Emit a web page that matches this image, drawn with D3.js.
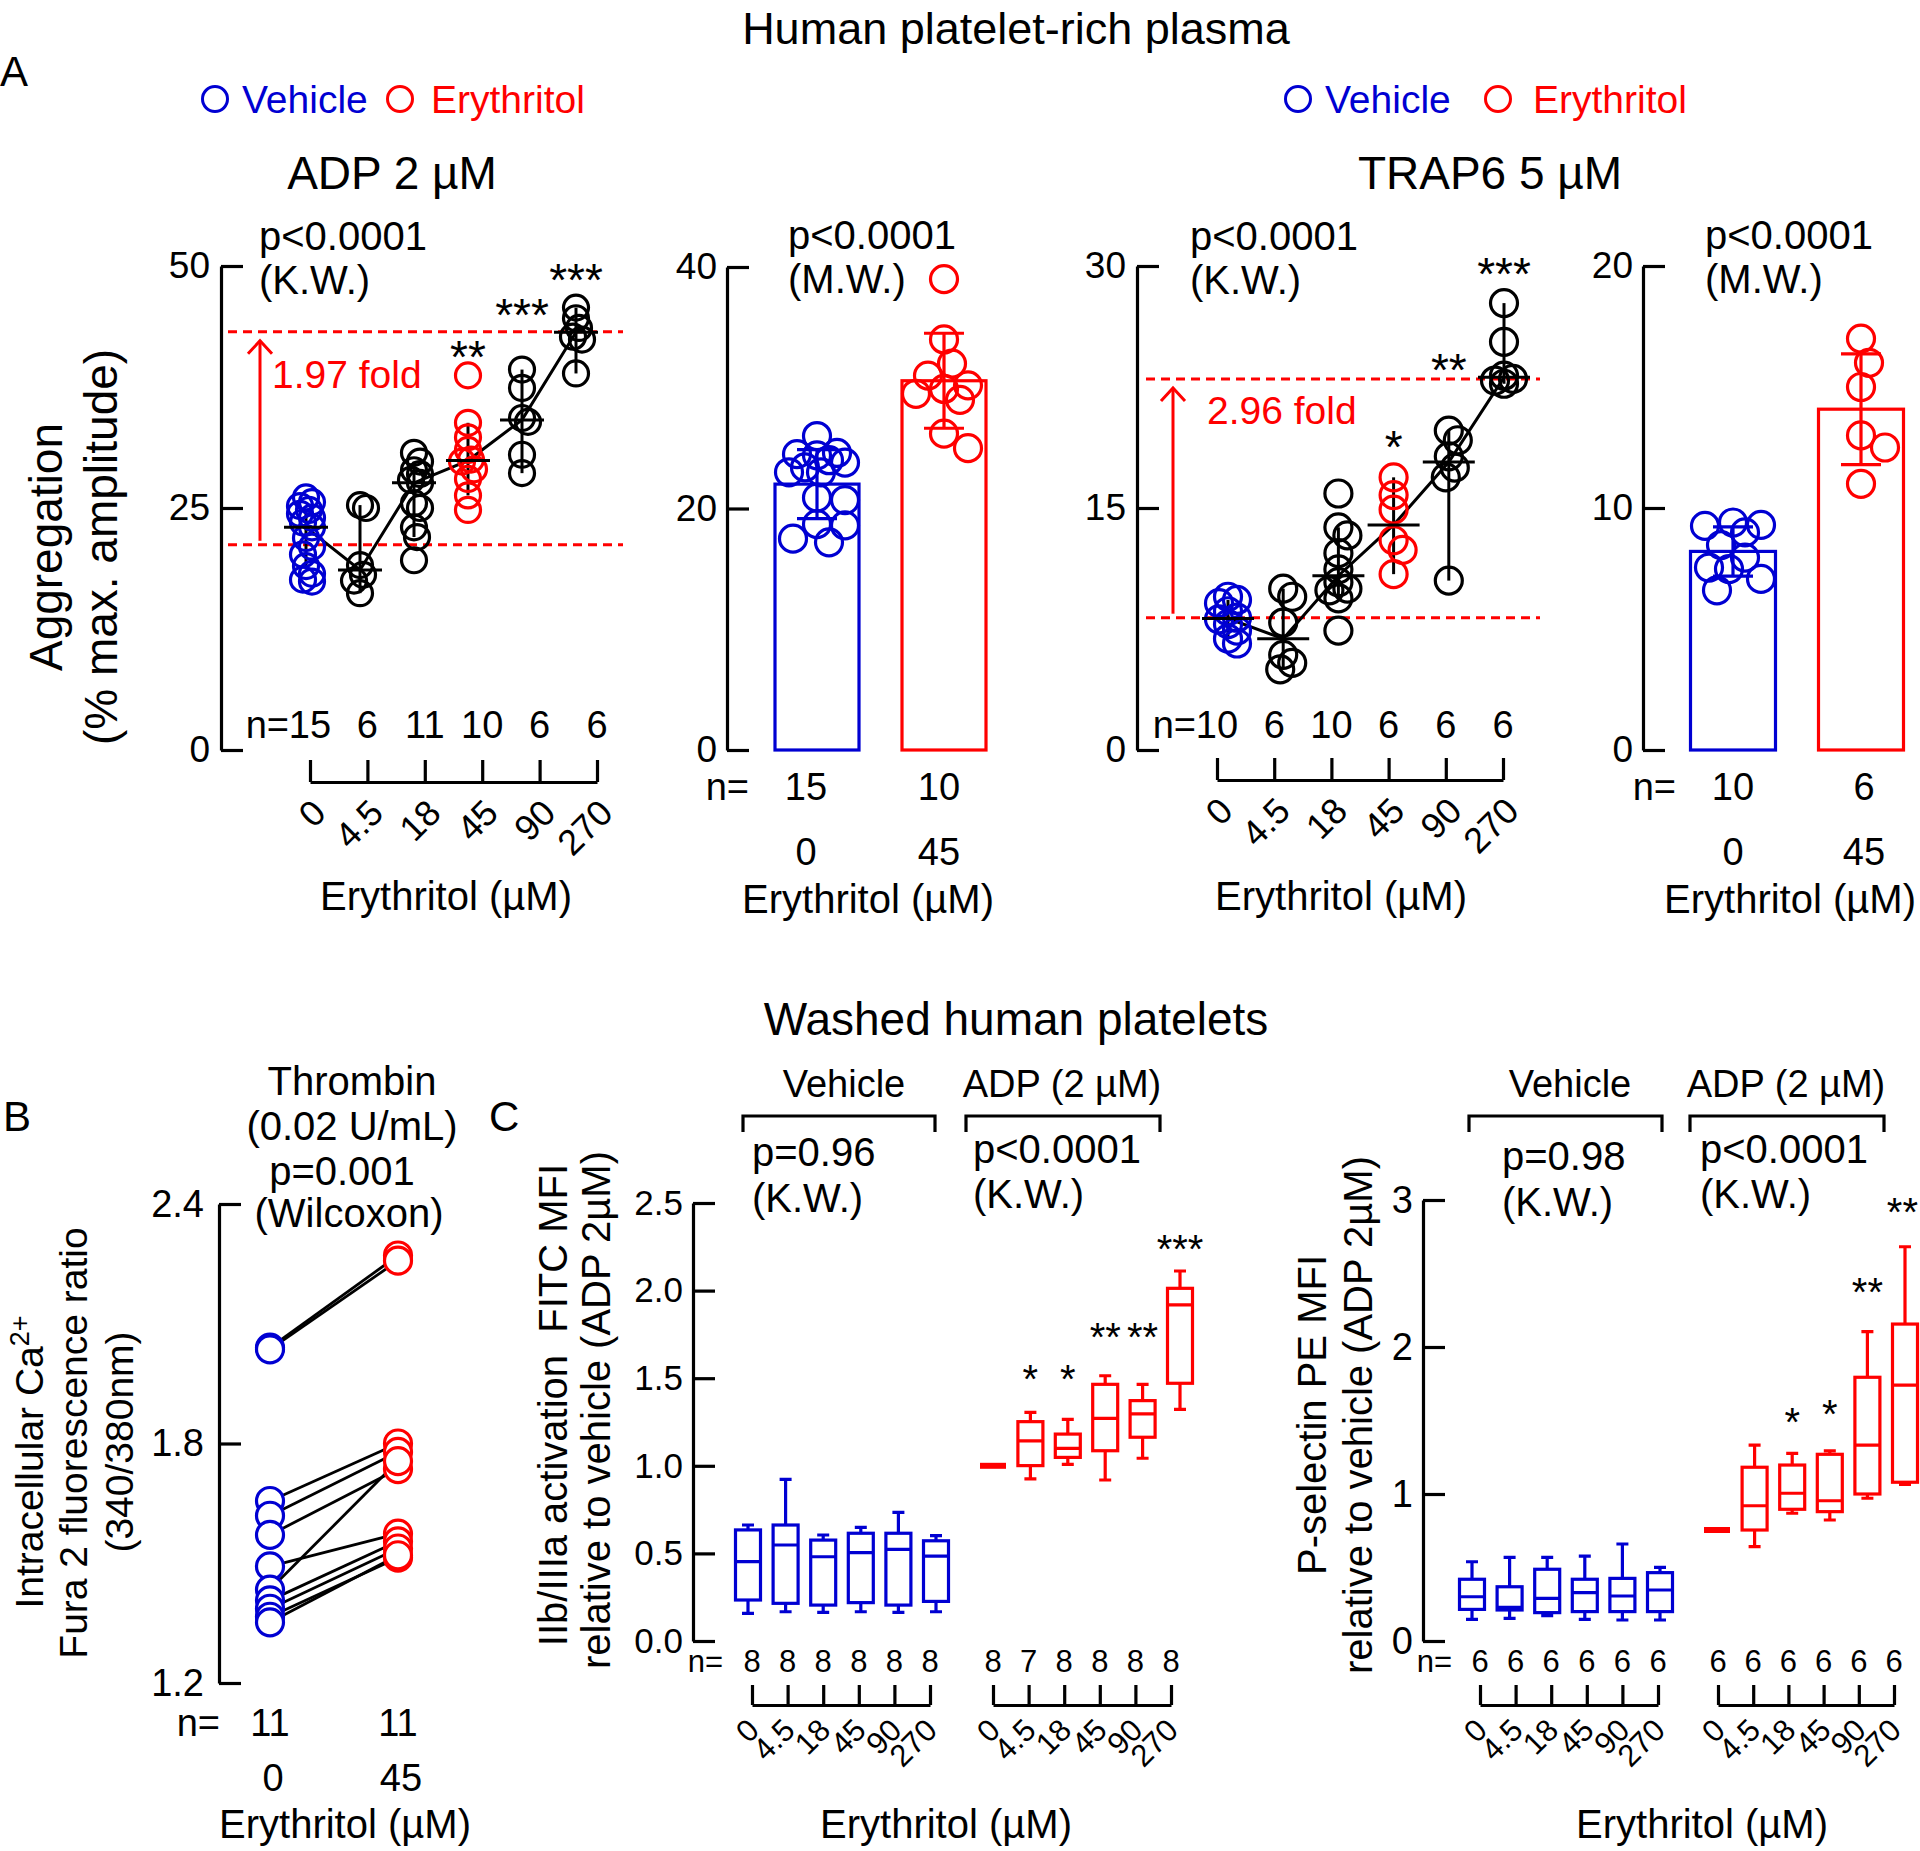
<!DOCTYPE html>
<html><head><meta charset="utf-8">
<script src="https://cdn.jsdelivr.net/npm/d3@7"></script>
<style>body{margin:0;background:#fff}svg{display:block}</style>
</head><body>
<script>
// ---------------- DATA ----------------
const doses = ["0","4.5","18","45","90","270"];

// A – ADP 2 µM, aggregation (% max. amplitude) per erythritol dose
const adpAgg = [
  [26.1,25.6,25.2,24.8,24.4,24.0,23.5,23.0,21.9,21.0,20.2,19.0,18.2,17.6,17.4],
  [25.3,25.0,19.1,18.1,17.5,16.2],
  [30.7,29.8,28.9,28.5,27.9,27.6,25.5,25.0,23.0,22.0,19.6],
  [38.7,33.8,32.3,31.0,30.0,29.8,29.0,28.0,26.3,24.8],
  [39.3,37.4,34.3,33.9,30.5,28.6],
  [45.7,44.6,43.6,42.7,42.4,38.9]
];
const adpSig  = ["","","","**","***","***"];
const adpSigY = [0,0,0,41.6,46.0,49.6];
const adpRef  = [21.2,43.2];
const adpVeh  = [26.0,24.6,24.5,23.8,24.0,23.0,23.0,23.4,20.9,20.7,18.7,18.6,17.2,17.5,24.4];
const adpEry  = [39.0,34.0,32.0,31.0,30.2,29.9,29.5,29.0,26.2,25.0];

// A – TRAP6 5 µM
const trapAgg = [
  [9.5,9.3,9.1,8.6,8.2,8.1,7.8,7.4,6.9,6.6],
  [10.0,9.5,7.9,5.9,5.4,5.0],
  [15.9,13.8,13.3,12.2,11.2,10.4,10.0,9.9,9.4,7.4],
  [16.9,15.8,14.9,13.0,12.4,10.9],
  [19.8,19.2,18.2,17.5,16.9,10.5],
  [27.7,25.3,23.2,23.0,22.9,22.7]
];
const trapSig  = ["","","","*","**","***"];
const trapSigY = [0,0,0,19.4,24.2,30.1];
const trapRef  = [8.2,23.0];
const trapVeh  = [9.4,9.26,8.99,9.3,8.47,7.95,7.54,7.48,7.07,6.6];
const trapEry  = [17.0,16.0,15.0,13.0,12.5,11.0];

// B – intracellular Ca2+ (paired)
const caVeh = [2.040,2.036,1.656,1.619,1.571,1.492,1.434,1.407,1.386,1.366,1.352];
const caEry = [2.271,2.258,1.800,1.779,1.736,1.574,1.756,1.555,1.537,1.514,1.520];

// C – box summaries [whiskerLow, q1, median, q3, whiskerHigh]
const itgVeh = [
  [0.158,0.234,0.453,0.634,0.662],[0.167,0.215,0.548,0.662,0.923],[0.163,0.205,0.481,0.576,0.605],
  [0.167,0.219,0.504,0.615,0.649],[0.163,0.205,0.523,0.615,0.734],[0.167,0.226,0.485,0.572,0.601]];
const itgAdp = [
  [1,1,1,1,1],[0.925,1.001,1.142,1.252,1.305],[1.008,1.048,1.100,1.181,1.265],
  [0.919,1.086,1.271,1.465,1.514],[1.043,1.163,1.296,1.372,1.465],[1.322,1.471,1.918,2.013,2.112]];
const itgNVeh = [8,8,8,8,8,8], itgNAdp = [8,7,8,8,8,8];
const itgSig  = ["","*","*","**","**","***"];
const itgSigY = [0,1.547,1.547,1.787,1.787,2.289];

const pselVeh = [
  [0.147,0.215,0.301,0.420,0.539],[0.154,0.211,0.229,0.369,0.569],[0.172,0.193,0.290,0.488,0.569],
  [0.147,0.200,0.329,0.420,0.578],[0.143,0.200,0.306,0.426,0.660],[0.143,0.200,0.347,0.465,0.501]];
const pselAdp = [
  [0.755,0.755,0.755,0.755,0.755],[0.642,0.755,0.920,1.182,1.333],[0.869,0.896,1.005,1.197,1.277],
  [0.823,0.880,0.954,1.270,1.293],[0.971,1.000,1.333,1.794,2.104],[1.066,1.080,1.741,2.156,2.682]];
const pselNVeh = [6,6,6,6,6,6], pselNAdp = [6,6,6,6,6,6];
const pselSig  = ["","","*","*","**","**"];
const pselSigY = [0,0,1.551,1.605,2.435,2.98];

// ---------------- DRAWING ----------------
const W=1920,H=1851;
const FONT="'Liberation Sans', Arial, Helvetica, sans-serif";
const BLUE="#0000d2", RED="#ff0000", BLK="#000";
const svg=d3.select("body").append("svg").attr("width",W).attr("height",H).attr("font-family",FONT);
svg.append("rect").attr("width",W).attr("height",H).attr("fill","#fff");

function txt(g,x,y,s,o={}){
  const t=g.append("text").attr("x",x).attr("y",y).attr("font-size",o.fs||38)
    .attr("fill",o.fill||BLK).attr("text-anchor",o.anchor||"start").text(s);
  if(o.rot!=null) t.attr("transform",`rotate(${o.rot},${x},${y})`);
  return t;
}
function yAxis(g,x,y,ticks,fmt,fs,pad){
  const a=g.append("g").attr("transform",`translate(${x},0)`)
    .call(d3.axisLeft(y).tickValues(ticks).tickFormat(fmt).tickSizeInner(-22).tickSizeOuter(0).tickPadding(pad||10));
  a.attr("font-family",null).attr("font-size",null);
  a.select(".domain").attr("stroke",BLK).attr("stroke-width",3.2);
  a.selectAll(".tick line").attr("stroke",BLK).attr("stroke-width",3.2);
  a.selectAll(".tick text").attr("font-size",fs).attr("fill",BLK);
}
function doseAxis(g,x,yPos,fs,dx,dy,tick){
  const a=g.append("g").attr("transform",`translate(0,${yPos})`)
    .call(d3.axisBottom(x).tickSizeInner(-tick).tickSizeOuter(0).tickFormat(""));
  a.attr("font-family",null).attr("font-size",null);
  a.select(".domain").attr("stroke",BLK).attr("stroke-width",3.2);
  a.selectAll(".tick line").attr("stroke",BLK).attr("stroke-width",3.2);
  g.append("g").selectAll("text").data(x.domain()).join("text")
    .attr("transform",d=>`translate(${x(d)+dx},${yPos+dy}) rotate(-45)`)
    .attr("text-anchor","end").attr("font-size",fs).text(d=>d);
}
function medianCI(v){
  const s=v.slice().sort(d3.ascending), n=s.length, tot=Math.pow(2,n);
  const C=(n,k)=>{let r=1;for(let i=1;i<=k;i++) r=r*(n-k+i)/i;return r;};
  let cum=0,j=0;
  while(j<n && cum+C(n,j)/tot<=0.025){cum+=C(n,j)/tot;j++;}
  if(j===0) return [s[0],s[n-1]];
  return [s[j-1],s[n-j]];
}
function swarm(vals,y,minDist,maxOff,step){
  const idx=d3.range(vals.length).sort((a,b)=>vals[b]-vals[a]);
  const placed=[], offs=new Array(vals.length).fill(0);
  const cands=[0]; for(let k=1;k*step<=maxOff+1e-9;k++) cands.push(k*step,-k*step);
  for(const i of idx){
    const yi=y(vals[i]); let best=0,bestD=-1;
    for(const cx of cands){
      let md=Infinity; for(const p of placed) md=Math.min(md,Math.hypot(cx-p[0],yi-p[1]));
      if(md>=minDist){best=cx;break;}
      if(md>bestD){bestD=md;best=cx;}
    }
    offs[i]=best; placed.push([best,yi]);
  }
  return offs;
}

// headings / legends
txt(svg,1016,44,"Human platelet-rich plasma",{fs:45,anchor:"middle"});
txt(svg,1016,1035,"Washed human platelets",{fs:46,anchor:"middle"});
txt(svg,0,86,"A",{fs:42});
txt(svg,3,1131,"B",{fs:42});
txt(svg,489,1131,"C",{fs:42});
function legend(cx1,tx1,cx2,tx2){
  svg.append("circle").attr("cx",cx1).attr("cy",99).attr("r",12.5).attr("fill","none").attr("stroke",BLUE).attr("stroke-width",3);
  txt(svg,tx1,113,"Vehicle",{fs:39,fill:BLUE});
  svg.append("circle").attr("cx",cx2).attr("cy",99).attr("r",12.5).attr("fill","none").attr("stroke",RED).attr("stroke-width",3);
  txt(svg,tx2,113,"Erythritol",{fs:39,fill:RED});
}
legend(215,242,400,431);
legend(1298,1325,1498,1533);
txt(svg,392,189,"ADP 2 µM",{fs:46,anchor:"middle"});
txt(svg,1490,189,"TRAP6 5 µM",{fs:46,anchor:"middle"});

// A y title
txt(svg,62,547,"Aggregation",{fs:46,anchor:"middle",rot:-90});
txt(svg,117,547,"(% max. amplitude)",{fs:46,anchor:"middle",rot:-90});

const groupCol=[BLUE,BLK,BLK,RED,BLK,BLK];

function dotPanel(c){
  const g=svg.append("g");
  const y=d3.scaleLinear().domain([0,c.ymax]).range([750,c.yTop]);
  const xp=d3.scalePoint().domain(doses).range(c.ptsRange);
  const xa=d3.scalePoint().domain(doses).range(c.axRange);
  yAxis(g,c.axisX,y,c.ticks,d3.format("d"),37,11);
  g.selectAll(".ref").data(c.ref).join("line")
    .attr("x1",c.dash[0]).attr("x2",c.dash[1]).attr("y1",d=>y(d)).attr("y2",d=>y(d))
    .attr("stroke",RED).attr("stroke-width",3).attr("stroke-dasharray","9,6");
  const ay0=y(c.ref[0])-4, ay1=y(c.ref[1])+9;
  g.append("line").attr("x1",c.arrowX).attr("x2",c.arrowX).attr("y1",ay0).attr("y2",ay1).attr("stroke",RED).attr("stroke-width",3);
  g.append("path").attr("d",`M${c.arrowX-12},${ay1+13}L${c.arrowX},${ay1}L${c.arrowX+12},${ay1+13}`)
    .attr("fill","none").attr("stroke",RED).attr("stroke-width",3);
  txt(g,c.fold[0],c.fold[1],c.foldLabel,{fs:39,fill:RED});
  const med=c.groups.map(v=>d3.median(v));
  g.append("path").datum(med).attr("fill","none").attr("stroke",BLK).attr("stroke-width",3)
    .attr("d",d3.line().x((d,i)=>xp(doses[i])).y(d=>y(d)));
  c.groups.forEach((v,i)=>{
    const [lo,hi]=medianCI(v), x=xp(doses[i]);
    g.append("line").attr("x1",x).attr("x2",x).attr("y1",y(lo)).attr("y2",y(hi)).attr("stroke",BLK).attr("stroke-width",3);
  });
  c.groups.forEach((v,i)=>{
    const offs=swarm(v,y,c.minDist,c.maxOff,3), x=xp(doses[i]);
    g.append("g").selectAll("circle").data(v).join("circle")
      .attr("cx",(d,j)=>x+offs[j]).attr("cy",d=>y(d)).attr("r",c.r)
      .attr("fill","none").attr("stroke",groupCol[i]).attr("stroke-width",3.2);
  });
  g.selectAll(".med").data(med).join("line")
    .attr("x1",(d,i)=>xp(doses[i])-c.medHalf).attr("x2",(d,i)=>xp(doses[i])+c.medHalf)
    .attr("y1",d=>y(d)).attr("y2",d=>y(d)).attr("stroke",BLK).attr("stroke-width",3);
  c.sig.forEach((s,i)=>{ if(s) txt(g,xp(doses[i]),y(c.sigY[i])+26,s,{fs:46,anchor:"middle"}); });
  txt(g,xa(doses[0])-21,738,"n=",{fs:38,anchor:"end"});
  c.groups.forEach((v,i)=>txt(g,xa(doses[i]),738,String(v.length),{fs:38,anchor:"middle"}));
  doseAxis(g,xa,c.axY,36,18,33,22);
  txt(g,c.titleX,910,"Erythritol (µM)",{fs:40,anchor:"middle"});
  txt(g,c.pX,250,"p<0.0001",{fs:40});
  txt(g,c.pX,294,"(K.W.)",{fs:40});
}
dotPanel({groups:adpAgg,ymax:50,yTop:266,ticks:[0,25,50],axisX:221,ptsRange:[306,576],axRange:[310,597],
  axY:782,medHalf:22,r:12.5,minDist:10,maxOff:8,ref:adpRef,dash:[228,623],arrowX:260,fold:[272,388],
  foldLabel:"1.97 fold",sig:adpSig,sigY:adpSigY,titleX:446,pX:259});
dotPanel({groups:trapAgg,ymax:30,yTop:266,ticks:[0,15,30],axisX:1137,ptsRange:[1228,1504],axRange:[1217,1503],
  axY:780,medHalf:26,r:13.5,minDist:12,maxOff:9,ref:trapRef,dash:[1146,1540],arrowX:1173,fold:[1207,424],
  foldLabel:"2.96 fold",sig:trapSig,sigY:trapSigY,titleX:1341,pX:1190});

function barPanel(c){
  const g=svg.append("g");
  const y=d3.scaleLinear().domain([0,c.ymax]).range([750,c.yTop]);
  const xb=d3.scalePoint().domain(["0","45"]).range(c.barRange);
  const xl=d3.scalePoint().domain(["0","45"]).range(c.labRange);
  yAxis(g,c.axisX,y,c.ticks,d3.format("d"),37,10);
  [[c.veh,BLUE],[c.ery,RED]].forEach(([v,col],i)=>{
    const k=xb.domain()[i], cx=xb(k), m=d3.mean(v), sd=d3.deviation(v);
    g.append("rect").attr("x",cx-c.bw/2).attr("width",c.bw).attr("y",y(m)).attr("height",y(0)-y(m))
      .attr("fill","none").attr("stroke",col).attr("stroke-width",3.2);
    g.append("path").attr("d",`M${cx},${y(m-sd)}V${y(m+sd)}M${cx-20},${y(m+sd)}H${cx+20}M${cx-20},${y(m-sd)}H${cx+20}`)
      .attr("fill","none").attr("stroke",col).attr("stroke-width",3.2);
    const offs=swarm(v,y,25,c.bw/2-13,4);
    g.append("g").selectAll("circle").data(v).join("circle")
      .attr("cx",(d,j)=>cx+offs[j]).attr("cy",d=>y(d)).attr("r",13.5)
      .attr("fill","none").attr("stroke",col).attr("stroke-width",3.2);
    txt(g,xl(k),800,String(v.length),{fs:38,anchor:"middle"});
    txt(g,xl(k),865,k,{fs:38,anchor:"middle"});
  });
  txt(g,c.nEq,800,"n=",{fs:38,anchor:"end"});
  txt(g,c.titleX,913,"Erythritol (µM)",{fs:40,anchor:"middle"});
  txt(g,c.pX,249,"p<0.0001",{fs:40});
  txt(g,c.pX,293,"(M.W.)",{fs:40});
}
barPanel({veh:adpVeh,ery:adpEry,ymax:40,yTop:267,ticks:[0,20,40],axisX:727,barRange:[817,944],bw:84,
  labRange:[806,939],nEq:749,titleX:868,pX:788});
barPanel({veh:trapVeh,ery:trapEry,ymax:20,yTop:266,ticks:[0,10,20],axisX:1643,barRange:[1733,1861],bw:85,
  labRange:[1733,1864],nEq:1676,titleX:1790,pX:1705});

// ---------------- B ----------------
{
  const g=svg.append("g");
  const y=d3.scaleLinear().domain([1.2,2.4]).range([1683,1204]);
  const x=d3.scalePoint().domain(["0","45"]).range([270,398]);
  yAxis(g,219,y,[1.2,1.8,2.4],d3.format(".1f"),38,15);
  g.selectAll(".pair").data(caVeh).join("line")
    .attr("x1",x("0")).attr("x2",x("45")).attr("y1",d=>y(d)).attr("y2",(d,i)=>y(caEry[i]))
    .attr("stroke",BLK).attr("stroke-width",2.8);
  [[caVeh,"0",BLUE],[caEry,"45",RED]].forEach(([v,k,col])=>{
    g.append("g").selectAll("circle").data(v).join("circle")
      .attr("cx",x(k)).attr("cy",d=>y(d)).attr("r",13.5)
      .attr("fill","#fff").attr("stroke",col).attr("stroke-width",3.2);
    txt(g,x(k),1736,String(v.length),{fs:38,anchor:"middle"});
    txt(g,x(k)+3,1791,k,{fs:38,anchor:"middle"});
  });
  txt(g,220,1736,"n=",{fs:38,anchor:"end"});
  txt(g,345,1838,"Erythritol (µM)",{fs:40,anchor:"middle"});
  txt(g,352,1095,"Thrombin",{fs:40,anchor:"middle"});
  txt(g,352,1140,"(0.02 U/mL)",{fs:40,anchor:"middle"});
  txt(g,342,1185,"p=0.001",{fs:40,anchor:"middle"});
  txt(g,349,1227,"(Wilcoxon)",{fs:40,anchor:"middle"});
  const t=txt(g,43,1462,"Intracellular Ca",{fs:39,anchor:"middle",rot:-90});
  t.append("tspan").attr("dy",-14).attr("font-size",27).text("2+");
  txt(g,87,1443,"Fura 2 fluorescence ratio",{fs:39,anchor:"middle",rot:-90});
  txt(g,133,1442,"(340/380nm)",{fs:39,anchor:"middle",rot:-90});
}

// ---------------- C ----------------
function boxPanel(c){
  const g=svg.append("g");
  const y=d3.scaleLinear().domain([0,c.ymax]).range([1641,c.yTop]);
  yAxis(g,c.axisX,y,c.ticks,c.fmt,c.tickFs,10);
  [[c.veh,BLUE,c.vehBox,c.vehAx,c.nVeh,null],[c.adp,RED,c.adpBox,c.adpAx,c.nAdp,c]].forEach(([data,col,bR,aR,nArr,sg])=>{
    const xb=d3.scalePoint().domain(doses).range(bR);
    const xa=d3.scalePoint().domain(doses).range(aR);
    data.forEach((s,i)=>{
      const [wl,q1,md,q3,wh]=s, x=xb(doses[i]);
      if(q1===q3){
        g.append("line").attr("x1",x-13).attr("x2",x+13).attr("y1",y(md)).attr("y2",y(md)).attr("stroke",col).attr("stroke-width",6);
      } else {
        g.append("rect").attr("x",x-12.5).attr("width",25).attr("y",y(q3)).attr("height",y(q1)-y(q3))
          .attr("fill","none").attr("stroke",col).attr("stroke-width",3.2);
        g.append("path").attr("d",
          `M${x-12.5},${y(md)}H${x+12.5}M${x},${y(q3)}V${y(wh)}M${x-6},${y(wh)}H${x+6}M${x},${y(q1)}V${y(wl)}M${x-6},${y(wl)}H${x+6}`)
          .attr("fill","none").attr("stroke",col).attr("stroke-width",3.2);
      }
      if(sg && sg.sig[i]){
        const fs=40, w=sg.sig[i].length*0.389*fs;
        if(x+w/2>W-2) txt(g,W-2,y(sg.sigY[i])+23,sg.sig[i],{fs,anchor:"end"});
        else txt(g,x,y(sg.sigY[i])+23,sg.sig[i],{fs,anchor:"middle"});
      }
      txt(g,xa(doses[i]),1672,String(nArr[i]),{fs:31,anchor:"middle"});
    });
    doseAxis(g,xa,1705,31,9,27,20);
  });
  txt(g,c.nEq,1672,"n=",{fs:31,anchor:"end"});
  [[c.brV,c.vehLab,"Vehicle"],[c.brA,c.adpLab,"ADP (2 µM)"]].forEach(([b,lx,s])=>{
    g.append("path").attr("d",`M${b[0]},1132V1116H${b[1]}V1132`).attr("fill","none").attr("stroke",BLK).attr("stroke-width",3.2);
    txt(g,lx,1097,s,{fs:38,anchor:"middle"});
  });
  txt(g,c.p1[0],c.p1[1],c.p1Text,{fs:40});
  txt(g,c.p1[0],c.p1[1]+46,"(K.W.)",{fs:40});
  txt(g,c.p2[0],c.p2[1],"p<0.0001",{fs:40});
  txt(g,c.p2[0],c.p2[1]+45,"(K.W.)",{fs:40});
  txt(g,c.titleX,1838,"Erythritol (µM)",{fs:40,anchor:"middle"});
  txt(g,c.yt[0],c.yt[2],c.yTitle1,{fs:40,anchor:"middle",rot:-90});
  txt(g,c.yt[1],c.yt[3],"relative to vehicle (ADP 2µM)",{fs:40,anchor:"middle",rot:-90});
}
boxPanel({veh:itgVeh,adp:itgAdp,nVeh:itgNVeh,nAdp:itgNAdp,sig:itgSig,sigY:itgSigY,ymax:2.5,yTop:1203,
  ticks:[0,0.5,1,1.5,2,2.5],fmt:d3.format(".1f"),tickFs:35,axisX:693,vehBox:[748,936],adpBox:[993,1180],
  vehAx:[752,930],adpAx:[993,1171],nEq:723,brV:[743,935],brA:[966,1160],vehLab:844,adpLab:1062,
  p1:[752,1166],p1Text:"p=0.96",p2:[973,1163],titleX:946,yt:[567,610,1405,1410],
  yTitle1:"IIb/IIIa activation\u00a0\u00a0FITC MFI"});
boxPanel({veh:pselVeh,adp:pselAdp,nVeh:pselNVeh,nAdp:pselNAdp,sig:pselSig,sigY:pselSigY,ymax:3,yTop:1200,
  ticks:[0,1,2,3],fmt:d3.format("d"),tickFs:38,axisX:1423,vehBox:[1472,1660],adpBox:[1717,1905],
  vehAx:[1480,1658],adpAx:[1718,1894],nEq:1452,brV:[1469,1662],brA:[1690,1884],vehLab:1570,adpLab:1786,
  p1:[1502,1170],p1Text:"p=0.98",p2:[1700,1163],titleX:1702,yt:[1326,1372,1415,1415],
  yTitle1:"P-selectin PE MFI"});
</script>
</body></html>
